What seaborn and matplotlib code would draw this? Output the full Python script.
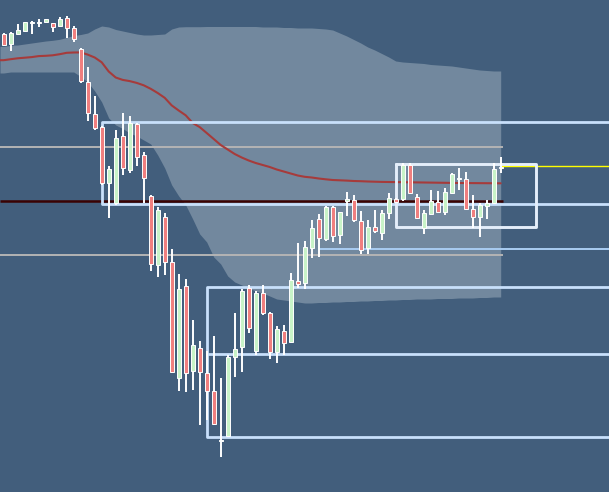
#!/usr/bin/env python3
import numpy as np
import pandas as pd
import seaborn as sns
import matplotlib.pyplot as plt

# candle data (price units), one entry per bar
opens = [466, 456, 466, 469, 477, 477, 478.3, 477, 474.3, 482, 472.5, 451, 418.5, 386.5, 373, 317,
         297, 364, 330, 376, 345, 304, 235, 283.3, 238, 122, 214, 129.3, 152, 127, 109, 59.5,
         64, 143, 153.5, 211.7, 149, 206.7, 187.5, 148.3, 169.3, 158.3, 219, 216.7, 252.5, 280.7,
         260.7, 292.7, 265, 299.5, 300, 279, 251.7, 272.7, 267.3, 286.7, 301, 301, 335, 302.7,
         272, 286, 297.7, 288.3, 306.7, 321, 320.7, 290.7, 283.3, 294, 297.3, 331.7]
highs = [467, 468, 476, 478, 479, 481, 481.5, 477, 483.3, 484, 474, 452, 433.3, 404, 374, 334,
         370, 387, 384, 377.5, 348, 305, 293.3, 287.3, 251, 226, 221, 180, 159, 149.3, 164, 122,
         145, 187.3, 211, 215, 209.5, 215, 188, 174, 175, 226.7, 257.3, 259, 280, 286,
         294, 294, 288, 308.3, 305, 289.3, 280, 290, 290, 306.7, 302.5, 336.7, 337.5, 306,
         290, 310, 309.3, 311.7, 326.7, 331.7, 328.3, 305, 296.7, 300, 337.3, 343.3]
lows = [454, 449, 465.5, 469, 466, 473, 478, 468, 474.3, 462, 458.5, 417, 379.3, 370, 315, 282,
        295, 325, 327, 334, 297, 229.3, 223, 225, 127, 109, 108, 110, 75, 80, 75, 43,
        63, 122.7, 128.3, 166.7, 145, 185, 140.7, 136.7, 145, 158.3, 211.7, 211, 242, 243.3,
        259.3, 258, 256, 284, 278.3, 246, 246, 266.7, 260, 281, 297, 299.3, 306.5, 280.7,
        266, 286, 288, 285, 306.5, 310, 290.5, 271.7, 262.7, 280.7, 296, 327.3]
closes = [455, 467, 470, 477.7, 477.5, 477.5, 481, 473, 481, 472, 461.5, 419, 387, 372, 317, 331.5,
          362, 332, 377, 343.5, 322, 236, 290, 238.3, 128.3, 211, 127, 155, 128, 109.3, 76, 59.5,
          143, 151.5, 209.5, 171.7, 207, 186.7, 148.3, 170.7, 156.7, 220, 215.7, 253.5, 271.7, 261.7,
          292.7, 264, 287.7, 301.5, 280.5, 250.5, 273, 269.3, 287.3, 301.7, 298.3, 335, 306.7, 281.7,
          287.3, 299, 288.3, 308.3, 325.7, 321, 290.7, 283.3, 295, 296.7, 330.7, 331.7]

# moving average and envelope band
ma_line = [439.8, 440.8, 441.7, 442.3, 442.9, 443.9, 444.2, 444.7, 445.8, 447.2, 447.5, 447.6,
           445.4, 442.5, 437.7, 428.5, 422.5, 420.1, 418.9, 417.1, 414.7, 411.2, 407, 402.2,
           394.6, 389.5, 384.7, 377, 372.9, 367, 361, 355, 350.5, 346, 342.5, 339.5,
           337, 335, 333, 330.5, 328.5, 326.5, 324.5, 323.2, 322.5, 321.5, 320.7, 320,
           319.7, 319.4, 319, 318.8, 318.5, 318.3, 318.1, 318, 317.9, 317.8, 317.7, 317.6,
           317.5, 317.4, 317.3, 317.2, 317.1, 317.0, 316.95, 316.9, 316.85, 316.8, 316.75, 316.7]
band_upper = [453.5, 454.7, 455, 456, 457, 458, 459, 459.7, 460.7, 462.5, 464.5, 465.5,
              467, 471, 474, 473, 470.5, 469, 467.5, 466, 465, 465, 465.5, 466,
              471, 473, 473.3, 473.3, 473.3, 473.5, 473.5, 473.5, 473.5, 473.5, 473.5, 473.5,
              473.5, 473, 473, 473, 472.5, 472.5, 472, 472, 472, 471.5, 471, 470,
              467, 464, 460.5, 457, 453, 450, 446.5, 443, 439, 438, 437.5, 437,
              436.5, 435.5, 435, 434.5, 434, 433, 432, 431, 430, 429.5, 429, 429]
band_lower = [427, 428, 428, 428, 428, 428, 428, 428, 428, 428, 428, 423.5,
              418, 409, 398, 382, 375, 371.5, 367, 364, 360, 356, 345, 332,
              315, 304, 295, 281, 266, 258, 243, 236, 224, 218, 215, 212,
              209, 207, 204, 201, 200, 199, 198, 197, 197, 197.5, 197.5, 198,
              198, 198.5, 198.5, 199, 199, 199.5, 199.5, 200, 200, 200.5, 200.5, 201,
              201, 201, 201.5, 201.5, 201.5, 202, 202, 202, 202.5, 202.5, 203, 203]

# drawn levels
grey_levels = [353.3, 245.3]
dark_level = 299.3
zone_a = [378.3, 295.8]           # top, bottom
zone_b = [212.7, 145.7, 62.7]     # top, middle, bottom
blue_level = 251.0
yellow_level = 334.0
box_c = [335.7, 272.7]            # top, bottom

# start bars of the drawings
zone_a_start = 14
zone_b_start = 29
blue_start = 45
box_c_span = (56, 76.1)

BG = '#425e7c'

df = pd.DataFrame({'open': opens, 'high': highs, 'low': lows, 'close': closes})
df['idx'] = np.arange(len(df))

sns.set_style('white')
fig = plt.figure(figsize=(6.09, 4.92), dpi=100, facecolor=BG)
ax = fig.add_axes([0, 0, 1, 1])
ax.set_facecolor(BG)

last = df['idx'].iloc[-1]
x_left, x_right = -3.7 / 7, (609 - 3.7) / 7
far = x_right + 5

# indicator series start at the left edge of the chart (first value carried back)
ind = pd.DataFrame({'idx': np.r_[x_left, df['idx']],
                    'ma': np.r_[ma_line[0], ma_line],
                    'up': np.r_[band_upper[0], band_upper],
                    'lo': np.r_[band_lower[0], band_lower]})

# envelope band
ax.fill_between(ind['idx'], ind['lo'], ind['up'], color='#72889e', lw=0, zorder=1)

# flat levels across the history
ax.hlines(grey_levels, x_left, last + 0.3, color='#b4b4b4', lw=1.4, zorder=2)
ax.hlines(dark_level, x_left, last + 0.3, color='#3a0202', lw=1.8, zorder=2)

# moving average
sns.lineplot(data=ind, x='idx', y='ma', color='#a63b3b', lw=1.5, ax=ax, zorder=3)

# zones extending to the right
zc = '#c8e0fb'
ax.plot([far, zone_a_start, zone_a_start, far], [zone_a[0], zone_a[0], zone_a[1], zone_a[1]],
        color=zc, lw=2.0, solid_joinstyle='round', zorder=4)
ax.plot([far, zone_b_start, zone_b_start, far], [zone_b[0], zone_b[0], zone_b[2], zone_b[2]],
        color=zc, lw=2.0, solid_joinstyle='round', zorder=4)
ax.hlines(zone_b[1], zone_b_start, far, color=zc, lw=2.0, zorder=4)
ax.hlines(blue_level, blue_start, far, color='#a9ccf2', lw=1.4, zorder=4)
ax.hlines(yellow_level, last, far, color='#ffff00', lw=1.0, zorder=4)
x0, x1 = box_c_span
ax.plot([x0, x1, x1, x0, x0], [box_c[0], box_c[0], box_c[1], box_c[1], box_c[0]],
        color='#e4eefa', lw=2.1, solid_joinstyle='round', zorder=4)

# candles
ax.vlines(df['idx'], df['low'], df['high'], color='white', lw=1.4, zorder=5)
fills = np.where(df['close'] > df['open'], '#c8f3c8',
                 np.where(df['close'] < df['open'], '#f07f7f', 'white'))
body_lo = df[['open', 'close']].min(axis=1)
body_h = (df['close'] - df['open']).abs().clip(lower=1.0)
ax.bar(df['idx'], body_h, bottom=body_lo, width=0.52, color=fills,
       edgecolor='white', linewidth=0.7, zorder=6)

ax.set_xlim(x_left, x_right)
ax.set_ylim(8, 500)
ax.axis('off')

fig.savefig('out.png', dpi=100, facecolor=BG)
